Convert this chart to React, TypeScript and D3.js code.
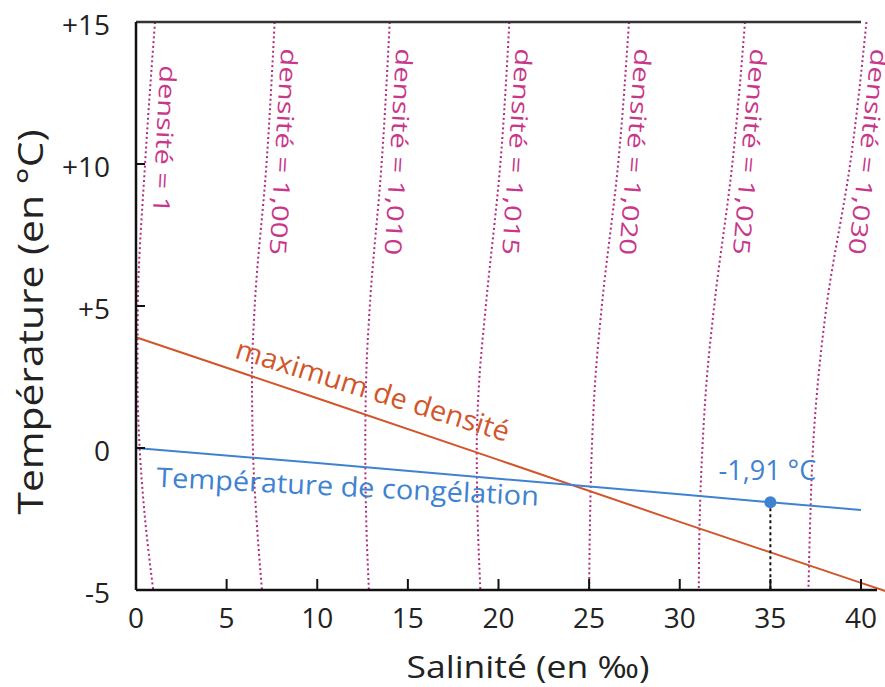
import { useEffect, useRef } from 'react';
import * as d3 from 'd3';

const salinityTicks = [0, 5, 10, 15, 20, 25, 30, 35, 40];
const temperatureTicks = [-5, 0, 5, 10, 15];
const temperatureTickLabels = ['-5', '0', '+5', '+10', '+15'];

// isopycnals: salinity read at each of these temperatures
const densityTemps = [15, 10, 5, 2.5, 0, -2.5, -5];
const densityLabels = [
  'densité = 1',
  'densité = 1,005',
  'densité = 1,010',
  'densité = 1,015',
  'densité = 1,020',
  'densité = 1,025',
  'densité = 1,030',
];
const densitySalinity = [
  [1.05, 0.5, 0.1, 0.08, 0.2, 0.5, 0.95],
  [7.65, 7.2, 6.55, 6.4, 6.45, 6.65, 6.95],
  [14.0, 13.55, 12.9, 12.7, 12.65, 12.7, 12.85],
  [20.6, 20.1, 19.3, 18.95, 18.8, 18.85, 19.0],
  [27.2, 26.6, 25.7, 25.35, 25.15, 25.05, 25.0],
  [33.6, 32.9, 31.9, 31.5, 31.25, 31.1, 31.05],
  [40.3, 39.4, 38.1, 37.65, 37.35, 37.2, 37.1],
];

const maxDensitySalinity = [0, 10, 20, 30, 40, 41.5];
const maxDensityTemp = [3.9, 1.75, -0.42, -2.6, -4.75, -5.07];

const freezingSalinity = [0, 10, 20, 30, 35, 40];
const freezingTemp = [0, -0.53, -1.08, -1.63, -1.91, -2.18];

const seaSalinity = 35;
const seaFreezing = -1.91;
const seaLabel = '-1,91 °C';

const FONT = '"Open Sans", "Noto Sans", sans-serif';
const PINK = '#c8378a';
const DOTS = '#b02c7c';
const ORANGE = '#d2562b';
const BLUE = '#3f82d2';

export default function App() {
  const svgRef = useRef<SVGSVGElement>(null);

  useEffect(() => {
    if (!svgRef.current) return;
    const svg = d3.select(svgRef.current);
    svg.selectAll('*').remove();

    const x = d3.scaleLinear().domain([0, 40]).range([136, 861]);
    const y = d3.scaleLinear().domain([-5, 15]).range([590, 22]);

    svg.append('rect').attr('width', 885).attr('height', 687).attr('fill', '#fff');

    // density curves
    const curve = d3
      .line<[number, number]>()
      .x(d => x(d[0]))
      .y(d => y(d[1]))
      .curve(d3.curveMonotoneY);

    densitySalinity.forEach((sal, i) => {
      const pts = sal.map((s, j) => [s, densityTemps[j]] as [number, number]);
      svg.append('path')
        .attr('d', curve(pts))
        .attr('fill', 'none')
        .attr('stroke', DOTS)
        .attr('stroke-width', 2)
        .attr('stroke-dasharray', '2,2.8');

      const y0 = i === 0 ? 65 : 48;
      const t0 = y.invert(y0);
      const s0 = sal[0] + (sal[1] - sal[0]) * (densityTemps[0] - t0) / (densityTemps[0] - densityTemps[1]);
      const lean = Math.atan2(x(sal[0]) - x(sal[2]), y(densityTemps[2]) - y(densityTemps[0])) * 180 / Math.PI;
      svg.append('text')
        .attr('transform', `translate(${x(s0) + 8},${y0}) rotate(${90 + lean * 0.8})`)
        .attr('fill', PINK)
        .style('font-family', FONT)
        .style('font-size', '23px')
        .attr('textLength', i === 0 ? 148 : 207)
        .attr('lengthAdjust', 'spacingAndGlyphs')
        .text(densityLabels[i]);
    });

    // maximum density line
    const line = d3.line<[number, number]>().x(d => x(d[0])).y(d => y(d[1]));
    const maxPts = maxDensitySalinity.map((s, i) => [s, maxDensityTemp[i]] as [number, number]);
    svg.append('path')
      .attr('d', line(maxPts))
      .attr('fill', 'none')
      .attr('stroke', ORANGE)
      .attr('stroke-width', 2);

    const maxAngle = Math.atan2(y(maxDensityTemp[2]) - y(maxDensityTemp[0]), x(20) - x(0)) * 180 / Math.PI;
    const mS = 5.2;
    const mT = maxDensityTemp[0] + (maxDensityTemp[1] - maxDensityTemp[0]) * mS / 10;
    svg.append('text')
      .attr('transform', `translate(${x(mS)},${y(mT)}) rotate(${maxAngle - 1.5})`)
      .attr('y', -12)
      .attr('fill', ORANGE)
      .style('font-family', FONT)
      .style('font-size', '28px')
      .attr('textLength', 285)
      .attr('lengthAdjust', 'spacingAndGlyphs')
      .text('maximum de densité');

    // freezing line
    const frzPts = freezingSalinity.map((s, i) => [s, freezingTemp[i]] as [number, number]);
    svg.append('path')
      .attr('d', line(frzPts))
      .attr('fill', 'none')
      .attr('stroke', BLUE)
      .attr('stroke-width', 2);

    const frzAngle = Math.atan2(y(freezingTemp[2]) - y(freezingTemp[0]), x(20) - x(0)) * 180 / Math.PI;
    const fS = 1.2;
    const fT = freezingTemp[0] + (freezingTemp[1] - freezingTemp[0]) * fS / 10;
    svg.append('text')
      .attr('transform', `translate(${x(fS)},${y(fT)}) rotate(${frzAngle - 2})`)
      .attr('y', 37)
      .attr('fill', BLUE)
      .style('font-family', FONT)
      .style('font-size', '27px')
      .attr('textLength', 383)
      .attr('lengthAdjust', 'spacingAndGlyphs')
      .text('Température de congélation');

    // sea water point
    svg.append('line')
      .attr('x1', x(seaSalinity)).attr('x2', x(seaSalinity))
      .attr('y1', y(seaFreezing)).attr('y2', y(-5))
      .attr('stroke', '#111')
      .attr('stroke-width', 2)
      .attr('stroke-dasharray', '3,3');
    svg.append('circle')
      .attr('cx', x(seaSalinity)).attr('cy', y(seaFreezing))
      .attr('r', 6)
      .attr('fill', BLUE);
    svg.append('text')
      .attr('x', x(seaSalinity) - 3)
      .attr('y', y(seaFreezing) - 22)
      .attr('text-anchor', 'middle')
      .attr('fill', BLUE)
      .style('font-family', FONT)
      .style('font-size', '27px')
      .text(seaLabel);

    // frame
    svg.append('line')
      .attr('x1', x(0)).attr('x2', x(40))
      .attr('y1', y(15)).attr('y2', y(15))
      .attr('stroke', '#333').attr('stroke-width', 2.5);
    svg.append('line')
      .attr('x1', x(0)).attr('x2', x(40) + 16)
      .attr('y1', y(-5)).attr('y2', y(-5))
      .attr('stroke', '#111').attr('stroke-width', 2.5);
    svg.append('line')
      .attr('x1', x(0)).attr('x2', x(0))
      .attr('y1', y(15)).attr('y2', y(-5))
      .attr('stroke', '#111').attr('stroke-width', 2.5);

    // x ticks
    salinityTicks.forEach(s => {
      if (s > 0) {
        svg.append('line')
          .attr('x1', x(s)).attr('x2', x(s))
          .attr('y1', y(-5)).attr('y2', y(-5) - 11)
          .attr('stroke', '#111').attr('stroke-width', 2);
      }
      svg.append('text')
        .attr('x', x(s))
        .attr('y', y(-5) + 38)
        .attr('text-anchor', 'middle')
        .attr('fill', '#222')
        .style('font-family', FONT)
        .style('font-size', '28px')
        .text(String(s));
    });

    // y ticks
    temperatureTicks.forEach((t, i) => {
      if (t > -5 && t < 15) {
        svg.append('line')
          .attr('x1', x(0)).attr('x2', x(0) + 9)
          .attr('y1', y(t)).attr('y2', y(t))
          .attr('stroke', '#111').attr('stroke-width', 2);
      }
      svg.append('text')
        .attr('x', 110)
        .attr('y', y(t) + 13)
        .attr('text-anchor', 'end')
        .attr('fill', '#222')
        .style('font-family', FONT)
        .style('font-size', '28px')
        .text(temperatureTickLabels[i]);
    });

    // axis titles
    svg.append('text')
      .attr('x', 528)
      .attr('y', 678)
      .attr('text-anchor', 'middle')
      .attr('fill', '#222')
      .style('font-family', FONT)
      .style('font-size', '31px')
      .attr('textLength', 243)
      .attr('lengthAdjust', 'spacingAndGlyphs')
      .text('Salinité (en ‰)');

    svg.append('text')
      .attr('transform', `translate(43,322) rotate(-90)`)
      .attr('text-anchor', 'middle')
      .attr('fill', '#222')
      .style('font-family', FONT)
      .style('font-size', '34px')
      .attr('textLength', 385)
      .attr('lengthAdjust', 'spacingAndGlyphs')
      .text('Température (en °C)');
  }, []);

  return (
    <svg
      ref={svgRef}
      width={885}
      height={687}
      style={{ position: 'absolute', left: 0, top: 0, overflow: 'hidden' }}
    />
  );
}
